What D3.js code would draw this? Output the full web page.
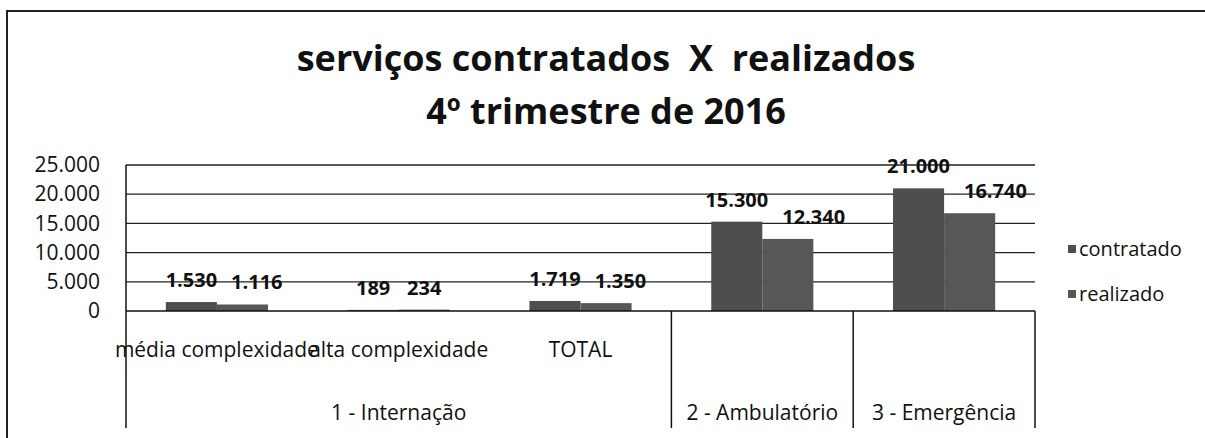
<!DOCTYPE html>
<html>
<head>
<meta charset="utf-8">
<script src="https://cdn.jsdelivr.net/npm/d3@7"></script>
<style>
  body { margin: 0; background: #fff; }
  text { font-family: "Open Sans", sans-serif; fill: #111; }
  .title { white-space: pre; }
</style>
</head>
<body>
<div id="chart"></div>
<script>
var subLabels = ["média complexidade", "alta complexidade", "TOTAL", "", ""];
var groupLabels = ["1 - Internação", "1 - Internação", "1 - Internação", "2 - Ambulatório", "3 - Emergência"];
var contratado = [1530, 189, 1719, 15300, 21000];
var realizado = [1116, 234, 1350, 12340, 16740];
var seriesNames = ["contratado", "realizado"];
var yTicks = [0, 5000, 10000, 15000, 20000, 25000];
var titleLines = ["serviços contratados  X  realizados", "4º trimestre de 2016"];

var W = 1205, H = 438;
var plot = { left: 126, right: 1035, top: 165, bottom: 311, axisBottom: 428 };
var colors = { contratado: "#4e4e4e", realizado: "#575757" };

var ptBR = d3.formatLocale({ decimal: ",", thousands: ".", grouping: [3], currency: ["R$", ""] });
var fmt = ptBR.format(",d");

var keys = d3.range(subLabels.length);

var svg = d3.select("#chart")
    .append("svg")
    .attr("width", W)
    .attr("height", H);

// outer frame (only left and top visible in the scan)
svg.append("path")
    .attr("d", "M7," + H + " L7,11 L" + W + ",11")
    .attr("fill", "none")
    .attr("stroke", "#222")
    .attr("stroke-width", 2);

svg.selectAll(".title")
    .data(titleLines)
    .enter().append("text")
    .attr("class", "title")
    .attr("x", 606)
    .attr("y", function (d, i) { return 71 + i * 53; })
    .attr("text-anchor", "middle")
    .attr("font-weight", "bold")
    .style("font-size", "36px")
    .text(function (d) { return d; });

var x0 = d3.scaleBand()
    .domain(keys)
    .range([plot.left, plot.right])
    .paddingInner(0)
    .paddingOuter(0);

var x1 = d3.scaleBand()
    .domain(seriesNames)
    .range([0, x0.bandwidth()])
    .paddingInner(0)
    .paddingOuter(0.78);

var y = d3.scaleLinear()
    .domain([0, 25000])
    .range([plot.bottom, plot.top]);

// gridlines
svg.append("g")
    .selectAll("line")
    .data(yTicks.filter(function (d) { return d > 0; }))
    .enter().append("line")
    .attr("x1", plot.left)
    .attr("x2", plot.right)
    .attr("y1", function (d) { return y(d); })
    .attr("y2", function (d) { return y(d); })
    .attr("stroke", "#222")
    .attr("stroke-width", 1.3);

// y axis labels
var yAxis = svg.append("g")
    .attr("transform", "translate(" + plot.left + ",0)")
    .call(d3.axisLeft(y).tickValues(yTicks).tickFormat(fmt).tickSize(0).tickPadding(26));
yAxis.select(".domain").remove();
yAxis.selectAll("text")
    .style("font-size", "21px")
    .style("font-family", "'Open Sans', sans-serif")
    .attr("fill", "#111");

// bars
var rows = keys.map(function (i) {
    return { key: i, values: [
        { name: "contratado", value: contratado[i] },
        { name: "realizado", value: realizado[i] }
    ] };
});

var groups = svg.append("g")
    .selectAll("g")
    .data(rows)
    .enter().append("g")
    .attr("transform", function (d) { return "translate(" + x0(d.key) + ",0)"; });

groups.selectAll("rect")
    .data(function (d) { return d.values; })
    .enter().append("rect")
    .attr("x", function (d) { return x1(d.name); })
    .attr("y", function (d) { return y(d.value); })
    .attr("width", x1.bandwidth())
    .attr("height", function (d) { return y(0) - y(d.value); })
    .attr("fill", function (d) { return colors[d.name]; });

// value labels; the second label is nudged right when it would touch the first
groups.each(function (row) {
    var g = d3.select(this);
    var prevRight = null, prevY = null;
    row.values.forEach(function (d) {
        var t = g.append("text")
            .attr("class", "lbl")
            .attr("x", x1(d.name) + x1.bandwidth() / 2)
            .attr("y", y(d.value) - 15)
            .attr("text-anchor", "middle")
            .attr("font-weight", "bold")
            .style("font-size", "20px")
            .text(fmt(d.value));
        var b = t.node().getBBox();
        if (prevRight !== null && Math.abs(prevY - b.y) < b.height && b.x < prevRight + 14) {
            t.attr("x", +t.attr("x") + (prevRight + 14 - b.x));
            b = t.node().getBBox();
        }
        prevRight = b.x + b.width;
        prevY = b.y;
    });
});

// category axis line
svg.append("line")
    .attr("x1", plot.left).attr("x2", plot.right)
    .attr("y1", y(0)).attr("y2", y(0))
    .attr("stroke", "#111").attr("stroke-width", 1.5);

// y axis line running down into the category area
svg.append("line")
    .attr("x1", plot.left).attr("x2", plot.left)
    .attr("y1", plot.top).attr("y2", plot.axisBottom)
    .attr("stroke", "#111").attr("stroke-width", 1.5);

// inner category labels
svg.selectAll(".sub")
    .data(keys)
    .enter().append("text")
    .attr("class", "sub")
    .attr("x", function (d) { return x0(d) + x0.bandwidth() / 2; })
    .attr("y", 357)
    .attr("text-anchor", "middle")
    .style("font-size", "21px")
    .text(function (d) { return subLabels[d]; });

// outer groups from runs of groupLabels
var runs = [];
groupLabels.forEach(function (g, i) {
    if (runs.length && runs[runs.length - 1].label === g) runs[runs.length - 1].end = i;
    else runs.push({ label: g, start: i, end: i });
});

svg.selectAll(".sep")
    .data(runs)
    .enter().append("line")
    .attr("class", "sep")
    .attr("x1", function (d) { return x0(d.end) + x0.bandwidth(); })
    .attr("x2", function (d) { return x0(d.end) + x0.bandwidth(); })
    .attr("y1", y(0))
    .attr("y2", plot.axisBottom)
    .attr("stroke", "#111")
    .attr("stroke-width", 1.5);

svg.selectAll(".grp")
    .data(runs)
    .enter().append("text")
    .attr("class", "grp")
    .attr("x", function (d) { return (x0(d.start) + x0(d.end) + x0.bandwidth()) / 2; })
    .attr("y", 420)
    .attr("text-anchor", "middle")
    .style("font-size", "21px")
    .text(function (d) { return d.label; });

// legend
var legend = svg.append("g")
    .selectAll("g")
    .data(seriesNames)
    .enter().append("g")
    .attr("transform", function (d, i) { return "translate(1068," + (249 + i * 45) + ")"; });

legend.append("rect")
    .attr("x", 0).attr("y", -4)
    .attr("width", 8).attr("height", 8)
    .attr("fill", function (d) { return colors[d]; });

legend.append("text")
    .attr("x", 11)
    .attr("y", 7)
    .style("font-size", "20px")
    .text(function (d) { return d; });
</script>
</body>
</html>
